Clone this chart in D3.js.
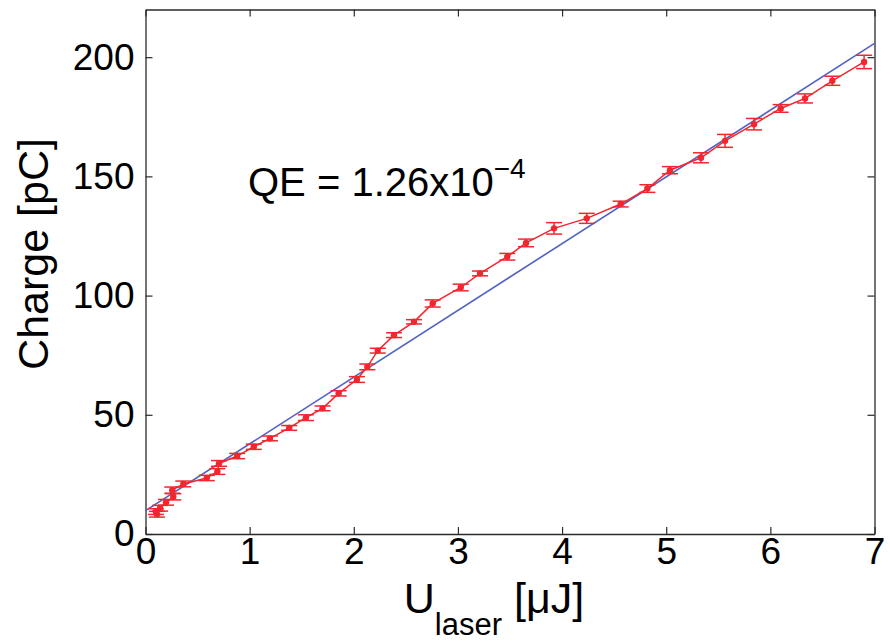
<!DOCTYPE html>
<html>
<head>
<meta charset="utf-8">
<script src="https://cdn.jsdelivr.net/npm/d3@7"></script>
<style>
  html, body { margin: 0; padding: 0; background: #fff; }
  svg { display: block; font-family: "Liberation Sans", Arial, sans-serif; }
</style>
</head>
<body>
<svg id="chart" width="890" height="641"></svg>
<script>
// measured points (laser energy in uJ, charge in pC, charge error)
const energy = [0.10, 0.11, 0.14, 0.197, 0.267, 0.257, 0.363, 0.588, 0.69, 0.706, 0.88, 1.04, 1.195, 1.38,
  1.54, 1.70, 1.855, 2.03, 2.13, 2.23, 2.386, 2.578, 2.758, 3.027, 3.212, 3.474, 3.654, 3.923,
  4.237, 4.563, 4.819, 5.036, 5.334, 5.565, 5.843, 6.099, 6.333, 6.595, 6.9];
const charge = [9.4, 8.3, 10.8, 13.3, 15.6, 18.4, 21.0, 23.5, 26.2, 29.6, 32.7, 36.6, 40.1, 44.5,
  48.8, 52.7, 59.0, 64.8, 70.1, 76.9, 83.4, 89.0, 96.7, 103.4, 109.3, 116.3, 122.1, 128.2,
  132.4, 138.4, 144.9, 152.6, 157.8, 164.9, 171.9, 178.5, 182.7, 190.1, 198.0];
const chargeErr = [1.2, 1.2, 1.2, 1.2, 1.3, 1.3, 1.2, 1.1, 1.2, 1.2, 1.1, 1.1, 1.0, 1.0,
  1.2, 1.0, 1.1, 1.2, 1.2, 1.0, 1.0, 0.9, 1.5, 1.4, 1.0, 1.4, 1.6, 2.4,
  2.1, 1.2, 1.6, 1.5, 2.1, 2.7, 2.4, 1.6, 1.9, 1.9, 2.8];

// linear fit
const fitEnergy = [0, 7];
const fitCharge = [9.8, 205.8];

const xTicks = [0, 1, 2, 3, 4, 5, 6, 7];
const yTicks = [0, 50, 100, 150, 200];

const margin = { top: 9.5, right: 15.5, bottom: 107, left: 145.5 };
const width = 890, height = 641;
const chartWidth = width - margin.left - margin.right;
const chartHeight = height - margin.top - margin.bottom;

const svg = d3.select('#chart');
const g = svg.append('g')
  .attr('transform', `translate(${margin.left}, ${margin.top})`);

const xScale = d3.scaleLinear().domain([0, 7]).range([0, chartWidth]);
const yScale = d3.scaleLinear().domain([0, 220]).range([chartHeight, 0]);

const axisColor = '#2a2a2a';

// box axes with inward ticks
function styleAxis(sel) {
  sel.select('.domain').attr('stroke', axisColor).attr('stroke-width', 1.3);
  sel.selectAll('.tick line').attr('stroke', axisColor).attr('stroke-width', 1.2);
  sel.selectAll('.tick text').attr('fill', '#000').style('font-size', '37px');
}

g.append('g')
  .attr('transform', `translate(0, ${chartHeight})`)
  .call(d3.axisBottom(xScale).tickValues(xTicks).tickFormat(d3.format('d'))
    .tickSizeInner(-7).tickSizeOuter(0).tickPadding(4))
  .call(styleAxis);

g.append('g')
  .call(d3.axisTop(xScale).tickValues(xTicks).tickSizeInner(-7).tickSizeOuter(0).tickFormat(''))
  .call(styleAxis);

g.append('g')
  .call(d3.axisLeft(yScale).tickValues(yTicks).tickSizeInner(-7).tickSizeOuter(0).tickPadding(11))
  .call(styleAxis);

g.append('g')
  .attr('transform', `translate(${chartWidth}, 0)`)
  .call(d3.axisRight(yScale).tickValues(yTicks).tickSizeInner(-7).tickSizeOuter(0).tickFormat(''))
  .call(styleAxis);

// fit line
g.append('line')
  .attr('x1', xScale(fitEnergy[0]))
  .attr('y1', yScale(fitCharge[0]))
  .attr('x2', xScale(fitEnergy[1]))
  .attr('y2', yScale(fitCharge[1]))
  .attr('stroke', '#5262c2')
  .attr('stroke-width', 1.6);

const data = energy.map((e, i) => ({ e, q: charge[i], err: chargeErr[i] }));
const red = '#f2262e';

// data line
g.append('path')
  .datum(data)
  .attr('fill', 'none')
  .attr('stroke', red)
  .attr('stroke-width', 1.5)
  .attr('d', d3.line().x(d => xScale(d.e)).y(d => yScale(d.q)));

// error bars
const bars = g.append('g').attr('stroke', red).attr('stroke-width', 1.5);
bars.selectAll('.ev')
  .data(data)
  .enter()
  .append('line')
  .attr('x1', d => xScale(d.e))
  .attr('x2', d => xScale(d.e))
  .attr('y1', d => yScale(d.q - d.err))
  .attr('y2', d => yScale(d.q + d.err));

const cap = 8;
['lo', 'hi'].forEach(k => {
  bars.selectAll('.cap-' + k)
    .data(data)
    .enter()
    .append('line')
    .attr('x1', d => xScale(d.e) - cap)
    .attr('x2', d => xScale(d.e) + cap)
    .attr('y1', d => yScale(k === 'lo' ? d.q - d.err : d.q + d.err))
    .attr('y2', d => yScale(k === 'lo' ? d.q - d.err : d.q + d.err));
});

// markers
g.selectAll('circle')
  .data(data)
  .enter()
  .append('circle')
  .attr('cx', d => xScale(d.e))
  .attr('cy', d => yScale(d.q))
  .attr('r', 3.2)
  .attr('fill', red);

// annotation
const qe = svg.append('text')
  .attr('x', 248)
  .attr('y', 196)
  .style('font-size', '40px')
  .attr('fill', '#000');
qe.append('tspan').text('QE = 1.26x10');
qe.append('tspan').attr('dy', -18).style('font-size', '28px').text('\u22124');

// x-axis label
const xl = svg.append('text')
  .attr('x', 494)
  .attr('y', 613)
  .style('text-anchor', 'middle')
  .style('font-size', '43px')
  .attr('fill', '#000');
xl.append('tspan').text('U');
xl.append('tspan').attr('dy', 22).style('font-size', '31px').text('laser');
xl.append('tspan').attr('dy', -22).text(' [\u03bcJ]');

// y-axis label
svg.append('text')
  .attr('transform', `translate(48, 254) rotate(-90)`)
  .style('text-anchor', 'middle')
  .style('font-size', '43px')
  .attr('fill', '#000')
  .text('Charge [pC]');
</script>
</body>
</html>
